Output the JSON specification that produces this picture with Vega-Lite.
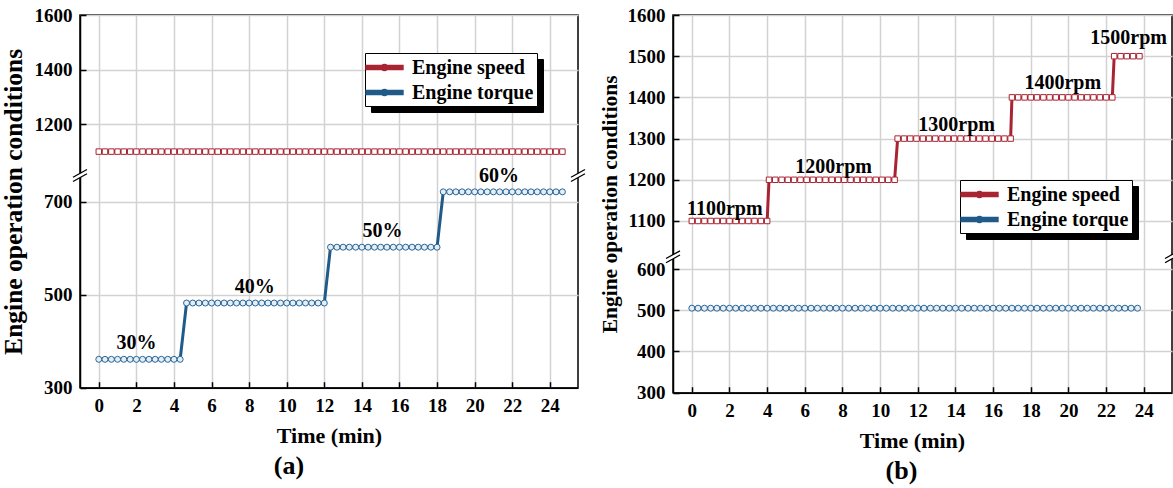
{
  "$schema": "https://vega.github.io/schema/vega-lite/v6.json",
  "background": "white",
  "padding": {"left": 0, "top": 5, "right": 0, "bottom": 0},
  "spacing": 9,
  "resolve": {"scale": {"color": "independent", "strokeDash": "independent"}, "legend": {"color": "independent", "strokeDash": "independent"}},
  "datasets": {
    "a": [
      {"t":0,"v":1100,"s":"Engine speed"},{"t":0.33,"v":1100,"s":"Engine speed"},{"t":0.67,"v":1100,"s":"Engine speed"},{"t":1,"v":1100,"s":"Engine speed"},{"t":1.33,"v":1100,"s":"Engine speed"},{"t":1.67,"v":1100,"s":"Engine speed"},{"t":2,"v":1100,"s":"Engine speed"},{"t":2.33,"v":1100,"s":"Engine speed"},{"t":2.67,"v":1100,"s":"Engine speed"},{"t":3,"v":1100,"s":"Engine speed"},{"t":3.33,"v":1100,"s":"Engine speed"},{"t":3.67,"v":1100,"s":"Engine speed"},{"t":4,"v":1100,"s":"Engine speed"},{"t":4.33,"v":1100,"s":"Engine speed"},{"t":4.67,"v":1100,"s":"Engine speed"},{"t":5,"v":1100,"s":"Engine speed"},{"t":5.33,"v":1100,"s":"Engine speed"},{"t":5.67,"v":1100,"s":"Engine speed"},{"t":6,"v":1100,"s":"Engine speed"},{"t":6.33,"v":1100,"s":"Engine speed"},{"t":6.67,"v":1100,"s":"Engine speed"},{"t":7,"v":1100,"s":"Engine speed"},{"t":7.33,"v":1100,"s":"Engine speed"},{"t":7.67,"v":1100,"s":"Engine speed"},{"t":8,"v":1100,"s":"Engine speed"},{"t":8.33,"v":1100,"s":"Engine speed"},{"t":8.67,"v":1100,"s":"Engine speed"},{"t":9,"v":1100,"s":"Engine speed"},{"t":9.33,"v":1100,"s":"Engine speed"},{"t":9.67,"v":1100,"s":"Engine speed"},{"t":10,"v":1100,"s":"Engine speed"},{"t":10.33,"v":1100,"s":"Engine speed"},{"t":10.67,"v":1100,"s":"Engine speed"},{"t":11,"v":1100,"s":"Engine speed"},{"t":11.33,"v":1100,"s":"Engine speed"},{"t":11.67,"v":1100,"s":"Engine speed"},{"t":12,"v":1100,"s":"Engine speed"},{"t":12.33,"v":1100,"s":"Engine speed"},{"t":12.67,"v":1100,"s":"Engine speed"},{"t":13,"v":1100,"s":"Engine speed"},{"t":13.33,"v":1100,"s":"Engine speed"},{"t":13.67,"v":1100,"s":"Engine speed"},{"t":14,"v":1100,"s":"Engine speed"},{"t":14.33,"v":1100,"s":"Engine speed"},{"t":14.67,"v":1100,"s":"Engine speed"},{"t":15,"v":1100,"s":"Engine speed"},{"t":15.33,"v":1100,"s":"Engine speed"},{"t":15.67,"v":1100,"s":"Engine speed"},{"t":16,"v":1100,"s":"Engine speed"},{"t":16.33,"v":1100,"s":"Engine speed"},{"t":16.67,"v":1100,"s":"Engine speed"},{"t":17,"v":1100,"s":"Engine speed"},{"t":17.33,"v":1100,"s":"Engine speed"},{"t":17.67,"v":1100,"s":"Engine speed"},{"t":18,"v":1100,"s":"Engine speed"},{"t":18.33,"v":1100,"s":"Engine speed"},{"t":18.67,"v":1100,"s":"Engine speed"},{"t":19,"v":1100,"s":"Engine speed"},{"t":19.33,"v":1100,"s":"Engine speed"},{"t":19.67,"v":1100,"s":"Engine speed"},{"t":20,"v":1100,"s":"Engine speed"},{"t":20.33,"v":1100,"s":"Engine speed"},{"t":20.67,"v":1100,"s":"Engine speed"},{"t":21,"v":1100,"s":"Engine speed"},{"t":21.33,"v":1100,"s":"Engine speed"},{"t":21.67,"v":1100,"s":"Engine speed"},{"t":22,"v":1100,"s":"Engine speed"},{"t":22.33,"v":1100,"s":"Engine speed"},{"t":22.67,"v":1100,"s":"Engine speed"},{"t":23,"v":1100,"s":"Engine speed"},{"t":23.33,"v":1100,"s":"Engine speed"},{"t":23.67,"v":1100,"s":"Engine speed"},{"t":24,"v":1100,"s":"Engine speed"},{"t":24.33,"v":1100,"s":"Engine speed"},{"t":24.67,"v":1100,"s":"Engine speed"},
      {"t":0,"v":361,"s":"Engine torque"},{"t":0.33,"v":361,"s":"Engine torque"},{"t":0.67,"v":361,"s":"Engine torque"},{"t":1,"v":361,"s":"Engine torque"},{"t":1.33,"v":361,"s":"Engine torque"},{"t":1.67,"v":361,"s":"Engine torque"},{"t":2,"v":361,"s":"Engine torque"},{"t":2.33,"v":361,"s":"Engine torque"},{"t":2.67,"v":361,"s":"Engine torque"},{"t":3,"v":361,"s":"Engine torque"},{"t":3.33,"v":361,"s":"Engine torque"},{"t":3.67,"v":361,"s":"Engine torque"},{"t":4,"v":361,"s":"Engine torque"},{"t":4.33,"v":361,"s":"Engine torque"},
      {"t":4.67,"v":482,"s":"Engine torque"},{"t":5,"v":482,"s":"Engine torque"},{"t":5.33,"v":482,"s":"Engine torque"},{"t":5.67,"v":482,"s":"Engine torque"},{"t":6,"v":482,"s":"Engine torque"},{"t":6.33,"v":482,"s":"Engine torque"},{"t":6.67,"v":482,"s":"Engine torque"},{"t":7,"v":482,"s":"Engine torque"},{"t":7.33,"v":482,"s":"Engine torque"},{"t":7.67,"v":482,"s":"Engine torque"},{"t":8,"v":482,"s":"Engine torque"},{"t":8.33,"v":482,"s":"Engine torque"},{"t":8.67,"v":482,"s":"Engine torque"},{"t":9,"v":482,"s":"Engine torque"},{"t":9.33,"v":482,"s":"Engine torque"},{"t":9.67,"v":482,"s":"Engine torque"},{"t":10,"v":482,"s":"Engine torque"},{"t":10.33,"v":482,"s":"Engine torque"},{"t":10.67,"v":482,"s":"Engine torque"},{"t":11,"v":482,"s":"Engine torque"},{"t":11.33,"v":482,"s":"Engine torque"},{"t":11.67,"v":482,"s":"Engine torque"},{"t":12,"v":482,"s":"Engine torque"},
      {"t":12.33,"v":602,"s":"Engine torque"},{"t":12.67,"v":602,"s":"Engine torque"},{"t":13,"v":602,"s":"Engine torque"},{"t":13.33,"v":602,"s":"Engine torque"},{"t":13.67,"v":602,"s":"Engine torque"},{"t":14,"v":602,"s":"Engine torque"},{"t":14.33,"v":602,"s":"Engine torque"},{"t":14.67,"v":602,"s":"Engine torque"},{"t":15,"v":602,"s":"Engine torque"},{"t":15.33,"v":602,"s":"Engine torque"},{"t":15.67,"v":602,"s":"Engine torque"},{"t":16,"v":602,"s":"Engine torque"},{"t":16.33,"v":602,"s":"Engine torque"},{"t":16.67,"v":602,"s":"Engine torque"},{"t":17,"v":602,"s":"Engine torque"},{"t":17.33,"v":602,"s":"Engine torque"},{"t":17.67,"v":602,"s":"Engine torque"},{"t":18,"v":602,"s":"Engine torque"},
      {"t":18.33,"v":721,"s":"Engine torque"},{"t":18.67,"v":721,"s":"Engine torque"},{"t":19,"v":721,"s":"Engine torque"},{"t":19.33,"v":721,"s":"Engine torque"},{"t":19.67,"v":721,"s":"Engine torque"},{"t":20,"v":721,"s":"Engine torque"},{"t":20.33,"v":721,"s":"Engine torque"},{"t":20.67,"v":721,"s":"Engine torque"},{"t":21,"v":721,"s":"Engine torque"},{"t":21.33,"v":721,"s":"Engine torque"},{"t":21.67,"v":721,"s":"Engine torque"},{"t":22,"v":721,"s":"Engine torque"},{"t":22.33,"v":721,"s":"Engine torque"},{"t":22.67,"v":721,"s":"Engine torque"},{"t":23,"v":721,"s":"Engine torque"},{"t":23.33,"v":721,"s":"Engine torque"},{"t":23.67,"v":721,"s":"Engine torque"},{"t":24,"v":721,"s":"Engine torque"},{"t":24.33,"v":721,"s":"Engine torque"},{"t":24.67,"v":721,"s":"Engine torque"}
    ],
    "b": [
      {"t":0,"v":1100,"s":"Engine speed"},{"t":0.33,"v":1100,"s":"Engine speed"},{"t":0.67,"v":1100,"s":"Engine speed"},{"t":1,"v":1100,"s":"Engine speed"},{"t":1.33,"v":1100,"s":"Engine speed"},{"t":1.67,"v":1100,"s":"Engine speed"},{"t":2,"v":1100,"s":"Engine speed"},{"t":2.33,"v":1100,"s":"Engine speed"},{"t":2.67,"v":1100,"s":"Engine speed"},{"t":3,"v":1100,"s":"Engine speed"},{"t":3.33,"v":1100,"s":"Engine speed"},{"t":3.67,"v":1100,"s":"Engine speed"},{"t":4,"v":1100,"s":"Engine speed"},
      {"t":4.1,"v":1200,"s":"Engine speed"},{"t":4.43,"v":1200,"s":"Engine speed"},{"t":4.77,"v":1200,"s":"Engine speed"},{"t":5.1,"v":1200,"s":"Engine speed"},{"t":5.43,"v":1200,"s":"Engine speed"},{"t":5.77,"v":1200,"s":"Engine speed"},{"t":6.1,"v":1200,"s":"Engine speed"},{"t":6.43,"v":1200,"s":"Engine speed"},{"t":6.77,"v":1200,"s":"Engine speed"},{"t":7.1,"v":1200,"s":"Engine speed"},{"t":7.43,"v":1200,"s":"Engine speed"},{"t":7.77,"v":1200,"s":"Engine speed"},{"t":8.1,"v":1200,"s":"Engine speed"},{"t":8.43,"v":1200,"s":"Engine speed"},{"t":8.77,"v":1200,"s":"Engine speed"},{"t":9.1,"v":1200,"s":"Engine speed"},{"t":9.43,"v":1200,"s":"Engine speed"},{"t":9.77,"v":1200,"s":"Engine speed"},{"t":10.1,"v":1200,"s":"Engine speed"},{"t":10.43,"v":1200,"s":"Engine speed"},{"t":10.77,"v":1200,"s":"Engine speed"},
      {"t":10.93,"v":1300,"s":"Engine speed"},{"t":11.27,"v":1300,"s":"Engine speed"},{"t":11.6,"v":1300,"s":"Engine speed"},{"t":11.93,"v":1300,"s":"Engine speed"},{"t":12.27,"v":1300,"s":"Engine speed"},{"t":12.6,"v":1300,"s":"Engine speed"},{"t":12.93,"v":1300,"s":"Engine speed"},{"t":13.27,"v":1300,"s":"Engine speed"},{"t":13.6,"v":1300,"s":"Engine speed"},{"t":13.93,"v":1300,"s":"Engine speed"},{"t":14.27,"v":1300,"s":"Engine speed"},{"t":14.6,"v":1300,"s":"Engine speed"},{"t":14.93,"v":1300,"s":"Engine speed"},{"t":15.27,"v":1300,"s":"Engine speed"},{"t":15.6,"v":1300,"s":"Engine speed"},{"t":15.93,"v":1300,"s":"Engine speed"},{"t":16.27,"v":1300,"s":"Engine speed"},{"t":16.6,"v":1300,"s":"Engine speed"},{"t":16.93,"v":1300,"s":"Engine speed"},
      {"t":17,"v":1400,"s":"Engine speed"},{"t":17.33,"v":1400,"s":"Engine speed"},{"t":17.67,"v":1400,"s":"Engine speed"},{"t":18,"v":1400,"s":"Engine speed"},{"t":18.33,"v":1400,"s":"Engine speed"},{"t":18.67,"v":1400,"s":"Engine speed"},{"t":19,"v":1400,"s":"Engine speed"},{"t":19.33,"v":1400,"s":"Engine speed"},{"t":19.67,"v":1400,"s":"Engine speed"},{"t":20,"v":1400,"s":"Engine speed"},{"t":20.33,"v":1400,"s":"Engine speed"},{"t":20.67,"v":1400,"s":"Engine speed"},{"t":21,"v":1400,"s":"Engine speed"},{"t":21.33,"v":1400,"s":"Engine speed"},{"t":21.67,"v":1400,"s":"Engine speed"},{"t":22,"v":1400,"s":"Engine speed"},{"t":22.33,"v":1400,"s":"Engine speed"},
      {"t":22.43,"v":1500,"s":"Engine speed"},{"t":22.77,"v":1500,"s":"Engine speed"},{"t":23.1,"v":1500,"s":"Engine speed"},{"t":23.43,"v":1500,"s":"Engine speed"},{"t":23.77,"v":1500,"s":"Engine speed"},
      {"t":0,"v":505,"s":"Engine torque"},{"t":0.33,"v":505,"s":"Engine torque"},{"t":0.67,"v":505,"s":"Engine torque"},{"t":1,"v":505,"s":"Engine torque"},{"t":1.33,"v":505,"s":"Engine torque"},{"t":1.67,"v":505,"s":"Engine torque"},{"t":2,"v":505,"s":"Engine torque"},{"t":2.33,"v":505,"s":"Engine torque"},{"t":2.67,"v":505,"s":"Engine torque"},{"t":3,"v":505,"s":"Engine torque"},{"t":3.33,"v":505,"s":"Engine torque"},{"t":3.67,"v":505,"s":"Engine torque"},{"t":4,"v":505,"s":"Engine torque"},{"t":4.33,"v":505,"s":"Engine torque"},{"t":4.67,"v":505,"s":"Engine torque"},{"t":5,"v":505,"s":"Engine torque"},{"t":5.33,"v":505,"s":"Engine torque"},{"t":5.67,"v":505,"s":"Engine torque"},{"t":6,"v":505,"s":"Engine torque"},{"t":6.33,"v":505,"s":"Engine torque"},{"t":6.67,"v":505,"s":"Engine torque"},{"t":7,"v":505,"s":"Engine torque"},{"t":7.33,"v":505,"s":"Engine torque"},{"t":7.67,"v":505,"s":"Engine torque"},{"t":8,"v":505,"s":"Engine torque"},{"t":8.33,"v":505,"s":"Engine torque"},{"t":8.67,"v":505,"s":"Engine torque"},{"t":9,"v":505,"s":"Engine torque"},{"t":9.33,"v":505,"s":"Engine torque"},{"t":9.67,"v":505,"s":"Engine torque"},{"t":10,"v":505,"s":"Engine torque"},{"t":10.33,"v":505,"s":"Engine torque"},{"t":10.67,"v":505,"s":"Engine torque"},{"t":11,"v":505,"s":"Engine torque"},{"t":11.33,"v":505,"s":"Engine torque"},{"t":11.67,"v":505,"s":"Engine torque"},{"t":12,"v":505,"s":"Engine torque"},{"t":12.33,"v":505,"s":"Engine torque"},{"t":12.67,"v":505,"s":"Engine torque"},{"t":13,"v":505,"s":"Engine torque"},{"t":13.33,"v":505,"s":"Engine torque"},{"t":13.67,"v":505,"s":"Engine torque"},{"t":14,"v":505,"s":"Engine torque"},{"t":14.33,"v":505,"s":"Engine torque"},{"t":14.67,"v":505,"s":"Engine torque"},{"t":15,"v":505,"s":"Engine torque"},{"t":15.33,"v":505,"s":"Engine torque"},{"t":15.67,"v":505,"s":"Engine torque"},{"t":16,"v":505,"s":"Engine torque"},{"t":16.33,"v":505,"s":"Engine torque"},{"t":16.67,"v":505,"s":"Engine torque"},{"t":17,"v":505,"s":"Engine torque"},{"t":17.33,"v":505,"s":"Engine torque"},{"t":17.67,"v":505,"s":"Engine torque"},{"t":18,"v":505,"s":"Engine torque"},{"t":18.33,"v":505,"s":"Engine torque"},{"t":18.67,"v":505,"s":"Engine torque"},{"t":19,"v":505,"s":"Engine torque"},{"t":19.33,"v":505,"s":"Engine torque"},{"t":19.67,"v":505,"s":"Engine torque"},{"t":20,"v":505,"s":"Engine torque"},{"t":20.33,"v":505,"s":"Engine torque"},{"t":20.67,"v":505,"s":"Engine torque"},{"t":21,"v":505,"s":"Engine torque"},{"t":21.33,"v":505,"s":"Engine torque"},{"t":21.67,"v":505,"s":"Engine torque"},{"t":22,"v":505,"s":"Engine torque"},{"t":22.33,"v":505,"s":"Engine torque"},{"t":22.67,"v":505,"s":"Engine torque"},{"t":23,"v":505,"s":"Engine torque"},{"t":23.33,"v":505,"s":"Engine torque"},{"t":23.67,"v":505,"s":"Engine torque"}
    ]
  },
  "config": {
    "font": "Liberation Serif",
    "view": {"stroke": "black", "strokeWidth": 1.5},
    "axis": {
      "labelFont": "Liberation Serif", "labelFontWeight": "bold", "labelFontSize": 19, "labelColor": "black",
      "titleFont": "Liberation Serif", "titleFontWeight": "bold", "titleFontSize": 22, "titleColor": "black",
      "domainColor": "black", "domainWidth": 1.5, "tickColor": "black", "tickWidth": 1.5,
      "gridColor": "#d2d2d2", "gridWidth": 1.5, "labelOverlap": false
    },
    "legend": {
      "padding": 3, "rowPadding": 3, "symbolSize": 400, "symbolStrokeWidth": 3,
      "symbolOffset": 5, "labelOffset": 16,
      "labelFont": "Liberation Serif", "labelFontWeight": "bold", "labelFontSize": 20
    }
  },
  "hconcat": [
    {
      "width": 498,
      "height": 372.7,
      "title": {"text": "(a)", "orient": "bottom", "dx": -40, "offset": 6, "fontSize": 26, "font": "Liberation Serif", "fontWeight": "bold", "color": "black"},
      "data": {"name": "a"},
      "layer": [
        {
          "mark": {"type": "line", "strokeWidth": 3},
          "encoding": {
            "x": {"field": "t", "type": "quantitative", "scale": {"domain": [-1, 25.5], "nice": false, "zero": false},
              "axis": {"title": "Time (min)", "values": [0,1,2,3,4,5,6,7,8,9,10,11,12,13,14,15,16,17,18,19,20,21,22,23,24,25], "format": "d", "labelOverlap": false,
                "labelExpr": "datum.value % 2 === 0 ? datum.label : ''",
                "tickSize": {"condition": {"test": "datum.value % 2 !== 0", "value": -3}, "value": -6},
                "gridOpacity": {"condition": {"test": "datum.value % 2 !== 0", "value": 0}, "value": 1},
                "labelPadding": 15, "titlePadding": 10}},
            "y": {"field": "v", "type": "quantitative", "scale": {"domain": [300, 740, 1040, 1600], "range": [372.7, 168, 153, 0], "nice": false, "zero": false},
              "axis": {"title": "Engine operation conditions", "values": [300,400,500,600,700,1100,1200,1300,1400,1500,1600], "format": "d", "labelOverlap": false,
                "tickSize": -6, "labelPadding": 14, "titlePadding": 8, "titleFontSize": 25.5}},
            "color": {"field": "s", "type": "nominal", "scale": {"domain": ["Engine speed", "Engine torque"], "range": ["#a82432", "#1f5a88"]},
              "legend": {"title": null, "orient": "none", "legendX": 285, "legendY": 38, "fillColor": "white", "strokeColor": "black", "labelColor": "black", "zindex": 2,
                "encode": {"symbols": {"update": {
                  "size": {"value": 400},
                  "shape": {"condition": {"test": "datum.value === 'Engine speed'", "value": "M-1.77,-0.115H-0.21V0.115H-1.77ZM0.21,-0.115H1.77V0.115H0.21ZM-0.21,-0.21H0.21V0.21H-0.21ZM-0.13,-0.13V0.13H0.13V-0.13Z"}, "value": "M-1.77,-0.115H-0.23V0.115H-1.77ZM0.23,-0.115H1.77V0.115H0.23ZM0.23,0A0.23,0.23 0 1 1 -0.23,0A0.23,0.23 0 1 1 0.23,0ZM0.155,0A0.155,0.155 0 1 0 -0.155,0A0.155,0.155 0 1 0 0.155,0Z"},
                  "fill": {"condition": {"test": "datum.value === 'Engine speed'", "value": "#a82432"}, "value": "#1f5a88"},
                  "stroke": {"value": "transparent"}, "opacity": {"value": 1}}}}}},
            "strokeDash": {"field": "s", "type": "nominal", "scale": {"domain": ["Engine torque", "Engine speed"], "range": [[1, 0], [1, 0]]},
              "legend": {"title": null, "orient": "none", "legendX": 291, "legendY": 44, "fillColor": "black", "strokeColor": "black", "labelColor": "black", "zindex": 1,
                "encode": {"symbols": {"update": {
                  "size": {"value": 400},
                  "shape": {"value": "M-1.77,-0.115H-0.23V0.115H-1.77ZM0.23,-0.115H1.77V0.115H0.23ZM-0.23,-0.23H0.23V0.23H-0.23Z"},
                  "fill": {"value": "black"}, "stroke": {"value": "transparent"}, "opacity": {"value": 1}}}}}}
          }
        },
        {
          "transform": [{"filter": "datum.s === 'Engine speed'"}],
          "mark": {"type": "point", "shape": "square", "size": 30, "filled": true, "fill": "white", "stroke": "#a82432", "strokeWidth": 1, "opacity": 1},
          "encoding": {"x": {"field": "t", "type": "quantitative"}, "y": {"field": "v", "type": "quantitative"}}
        },
        {
          "transform": [{"filter": "datum.s === 'Engine torque'"}],
          "mark": {"type": "point", "shape": "circle", "size": 36, "filled": true, "fill": "#e6eef5", "stroke": "#2a6697", "strokeWidth": 1, "opacity": 1},
          "encoding": {"x": {"field": "t", "type": "quantitative"}, "y": {"field": "v", "type": "quantitative"}}
        },
        {
          "data": {"values": [{"t": 2.0, "v": 361, "label": "30%"}, {"t": 8.3, "v": 482, "label": "40%"}, {"t": 15.1, "v": 602, "label": "50%"}, {"t": 21.3, "v": 721, "label": "60%"}]},
          "mark": {"type": "text", "dy": -16, "fontSize": 20, "fontWeight": "bold", "font": "Liberation Serif", "color": "black"},
          "encoding": {"x": {"field": "t", "type": "quantitative"}, "y": {"field": "v", "type": "quantitative"}, "text": {"field": "label"}}
        },
        {
          "data": {"values": [{}]},
          "mark": {"type": "point", "shape": "M-1,0.25L1,-0.85L1,-0.25L-1,0.85Z", "size": 196, "filled": true, "fill": "white", "strokeWidth": 0, "opacity": 1},
          "encoding": {"x": {"datum": -1}, "y": {"datum": 890}}
        },
        {
          "data": {"values": [{}]},
          "mark": {"type": "point", "shape": "M-1,0.25L1,-0.85M-1,0.85L1,-0.25", "size": 196, "filled": false, "stroke": "black", "strokeWidth": 1.3, "opacity": 1},
          "encoding": {"x": {"datum": -1}, "y": {"datum": 890}}
        },
        {
          "data": {"values": [{}]},
          "mark": {"type": "point", "shape": "M-1,0.25L1,-0.85L1,-0.25L-1,0.85Z", "size": 196, "filled": true, "fill": "white", "strokeWidth": 0, "opacity": 1},
          "encoding": {"x": {"datum": 25.5}, "y": {"datum": 890}}
        },
        {
          "data": {"values": [{}]},
          "mark": {"type": "point", "shape": "M-1,0.25L1,-0.85M-1,0.85L1,-0.25", "size": 196, "filled": false, "stroke": "black", "strokeWidth": 1.3, "opacity": 1},
          "encoding": {"x": {"datum": 25.5}, "y": {"datum": 890}}
        }
      ]
    },
    {
      "width": 499,
      "height": 377.7,
      "title": {"text": "(b)", "orient": "bottom", "dx": -21, "offset": 6, "fontSize": 26, "font": "Liberation Serif", "fontWeight": "bold", "color": "black"},
      "data": {"name": "b"},
      "layer": [
        {
          "mark": {"type": "line", "strokeWidth": 3},
          "encoding": {
            "x": {"field": "t", "type": "quantitative", "scale": {"domain": [-1, 25.5], "nice": false, "zero": false},
              "axis": {"title": "Time (min)", "values": [0,1,2,3,4,5,6,7,8,9,10,11,12,13,14,15,16,17,18,19,20,21,22,23,24,25], "format": "d", "labelOverlap": false,
                "labelExpr": "datum.value % 2 === 0 ? datum.label : ''",
                "tickSize": {"condition": {"test": "datum.value % 2 !== 0", "value": -3}, "value": -6},
                "gridOpacity": {"condition": {"test": "datum.value % 2 !== 0", "value": 0}, "value": 1},
                "labelPadding": 15, "titlePadding": 10, "titleX": 239}},
            "y": {"field": "v", "type": "quantitative", "scale": {"domain": [300, 628, 1015, 1600], "range": [377.7, 242.5, 241, 0], "nice": false, "zero": false},
              "axis": {"title": "Engine operation conditions", "values": [300,350,400,450,500,550,600,1050,1100,1150,1200,1250,1300,1350,1400,1450,1500,1550,1600], "format": "d", "labelOverlap": false,
                "labelExpr": "datum.value % 100 === 0 ? datum.label : ''",
                "tickSize": {"condition": {"test": "datum.value % 100 !== 0", "value": -3}, "value": -6},
                "gridOpacity": {"condition": {"test": "datum.value % 100 !== 0", "value": 0}, "value": 1},
                "labelPadding": 14, "titlePadding": 6, "titleFontSize": 21.5}},
            "color": {"field": "s", "type": "nominal", "scale": {"domain": ["Engine speed", "Engine torque"], "range": ["#a82432", "#1f5a88"]},
              "legend": {"title": null, "orient": "none", "legendX": 287, "legendY": 165, "fillColor": "white", "strokeColor": "black", "labelColor": "black", "zindex": 2,
                "encode": {"symbols": {"update": {
                  "size": {"value": 400},
                  "shape": {"condition": {"test": "datum.value === 'Engine speed'", "value": "M-1.77,-0.115H-0.21V0.115H-1.77ZM0.21,-0.115H1.77V0.115H0.21ZM-0.21,-0.21H0.21V0.21H-0.21ZM-0.13,-0.13V0.13H0.13V-0.13Z"}, "value": "M-1.77,-0.115H-0.23V0.115H-1.77ZM0.23,-0.115H1.77V0.115H0.23ZM0.23,0A0.23,0.23 0 1 1 -0.23,0A0.23,0.23 0 1 1 0.23,0ZM0.155,0A0.155,0.155 0 1 0 -0.155,0A0.155,0.155 0 1 0 0.155,0Z"},
                  "fill": {"condition": {"test": "datum.value === 'Engine speed'", "value": "#a82432"}, "value": "#1f5a88"},
                  "stroke": {"value": "transparent"}, "opacity": {"value": 1}}}}}},
            "strokeDash": {"field": "s", "type": "nominal", "scale": {"domain": ["Engine torque", "Engine speed"], "range": [[1, 0], [1, 0]]},
              "legend": {"title": null, "orient": "none", "legendX": 293, "legendY": 171, "fillColor": "black", "strokeColor": "black", "labelColor": "black", "zindex": 1,
                "encode": {"symbols": {"update": {
                  "size": {"value": 400},
                  "shape": {"value": "M-1.77,-0.115H-0.23V0.115H-1.77ZM0.23,-0.115H1.77V0.115H0.23ZM-0.23,-0.23H0.23V0.23H-0.23Z"},
                  "fill": {"value": "black"}, "stroke": {"value": "transparent"}, "opacity": {"value": 1}}}}}}
          }
        },
        {
          "transform": [{"filter": "datum.s === 'Engine speed'"}],
          "mark": {"type": "point", "shape": "square", "size": 30, "filled": true, "fill": "white", "stroke": "#a82432", "strokeWidth": 1, "opacity": 1},
          "encoding": {"x": {"field": "t", "type": "quantitative"}, "y": {"field": "v", "type": "quantitative"}}
        },
        {
          "transform": [{"filter": "datum.s === 'Engine torque'"}],
          "mark": {"type": "point", "shape": "circle", "size": 36, "filled": true, "fill": "#e6eef5", "stroke": "#2a6697", "strokeWidth": 1, "opacity": 1},
          "encoding": {"x": {"field": "t", "type": "quantitative"}, "y": {"field": "v", "type": "quantitative"}}
        },
        {
          "data": {"values": [{"t": 1.75, "v": 1128, "label": "1100rpm"}, {"t": 7.53, "v": 1232, "label": "1200rpm"}, {"t": 14.06, "v": 1332, "label": "1300rpm"}, {"t": 19.7, "v": 1436, "label": "1400rpm"}, {"t": 23.2, "v": 1545, "label": "1500rpm"}]},
          "mark": {"type": "text", "fontSize": 20, "fontWeight": "bold", "font": "Liberation Serif", "color": "black"},
          "encoding": {"x": {"field": "t", "type": "quantitative"}, "y": {"field": "v", "type": "quantitative"}, "text": {"field": "label"}}
        },
        {
          "data": {"values": [{}]},
          "mark": {"type": "point", "shape": "M-1,0.25L1,-0.85L1,-0.25L-1,0.85Z", "size": 196, "filled": true, "fill": "white", "strokeWidth": 0, "opacity": 1},
          "encoding": {"x": {"datum": -1}, "y": {"datum": 820}}
        },
        {
          "data": {"values": [{}]},
          "mark": {"type": "point", "shape": "M-1,0.25L1,-0.85M-1,0.85L1,-0.25", "size": 196, "filled": false, "stroke": "black", "strokeWidth": 1.3, "opacity": 1},
          "encoding": {"x": {"datum": -1}, "y": {"datum": 820}}
        },
        {
          "data": {"values": [{}]},
          "mark": {"type": "point", "shape": "M-1,0.25L1,-0.85L1,-0.25L-1,0.85Z", "size": 196, "filled": true, "fill": "white", "strokeWidth": 0, "opacity": 1},
          "encoding": {"x": {"datum": 25.5}, "y": {"datum": 820}}
        },
        {
          "data": {"values": [{}]},
          "mark": {"type": "point", "shape": "M-1,0.25L1,-0.85M-1,0.85L1,-0.25", "size": 196, "filled": false, "stroke": "black", "strokeWidth": 1.3, "opacity": 1},
          "encoding": {"x": {"datum": 25.5}, "y": {"datum": 820}}
        }
      ]
    }
  ]
}
